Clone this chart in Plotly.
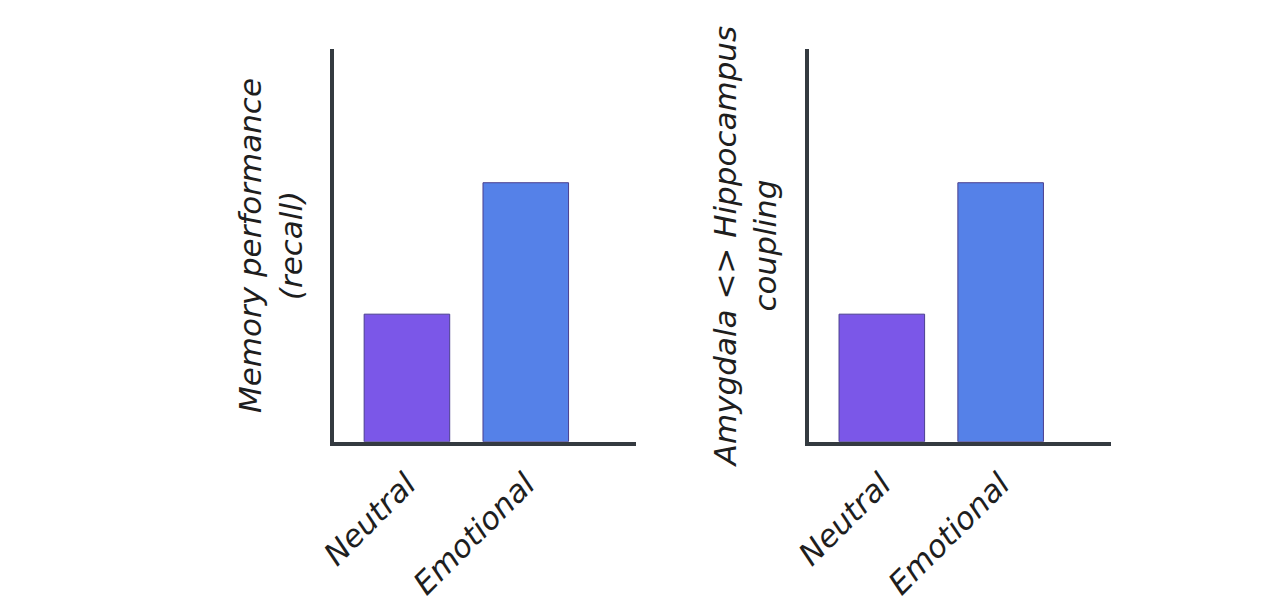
import plotly.graph_objects as go

CONDITIONS = ["Neutral", "Emotional"]
MEMORY_RECALL = [3.25, 6.6]
AMY_HIPPO_COUPLING = [3.25, 6.6]
Y_TITLES = ["Memory performance<br>(recall)", "Amygdala <> Hippocampus<br>coupling"]

BAR_COLORS = ["#7b57e8", "#5581e8"]
AXIS_COLOR = "#343a40"
FONT = dict(family="DejaVu Sans", size=31, color="#1e1e1e", style="italic")

fig = go.Figure()

fig.add_trace(go.Bar(x=CONDITIONS, y=MEMORY_RECALL,
                     marker=dict(color=BAR_COLORS, line=dict(color="#4a3f8f", width=1)),
                     xaxis="x", yaxis="y", showlegend=False))
fig.add_trace(go.Bar(x=CONDITIONS, y=AMY_HIPPO_COUPLING,
                     marker=dict(color=BAR_COLORS, line=dict(color="#4a3f8f", width=1)),
                     xaxis="x2", yaxis="y2", showlegend=False))

xcommon = dict(range=[-0.61, 1.93], showline=True, linecolor=AXIS_COLOR, linewidth=4,
               showgrid=False, zeroline=False, ticks="", tickangle=-45,
               tickfont=FONT, ticklabelstandoff=8)
ycommon = dict(range=[0, 10], showline=True, linecolor=AXIS_COLOR, linewidth=4,
               showgrid=False, zeroline=False, showticklabels=False, ticks="")

fig.update_layout(
    width=1280, height=599,
    margin=dict(l=0, r=0, t=0, b=0),
    paper_bgcolor="white", plot_bgcolor="white",
    bargap=0.28,
    xaxis=dict(domain=[0.245, 0.484], anchor="y", **xcommon),
    yaxis=dict(domain=[0.276, 0.931], anchor="x",
               title=dict(text=Y_TITLES[0], font=FONT, standoff=20), **ycommon),
    xaxis2=dict(domain=[0.621, 0.860], anchor="y2", **xcommon),
    yaxis2=dict(domain=[0.276, 0.931], anchor="x2",
                title=dict(text=Y_TITLES[1], font=FONT, standoff=20), **ycommon),
)

fig.write_html("out.html")
